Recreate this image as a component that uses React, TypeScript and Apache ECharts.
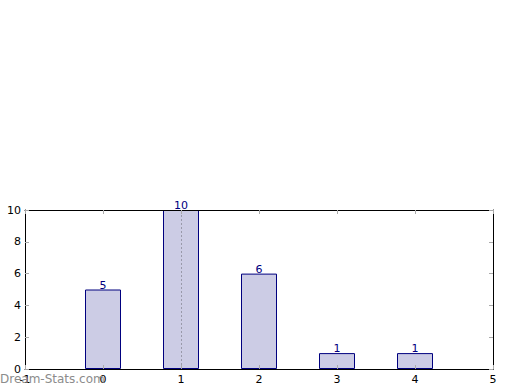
import React, { useEffect, useRef } from "react";
import * as echarts from "echarts";

const categories = [0, 1, 2, 3, 4];
const values = [5, 10, 6, 1, 1];
const xTicks = [-1, 0, 1, 2, 3, 4, 5];
const yTicks = [0, 2, 4, 6, 8, 10];
const markX = 1;

export default function App() {
  const ref = useRef<HTMLDivElement>(null);
  useEffect(() => {
    const chart = echarts.init(ref.current!, null, { renderer: "svg" });
    const font = "DejaVu Sans";
    const tickStyle = { show: true, inside: true, length: 4, lineStyle: { color: "#aaaaaa", width: 1 } };
    const line = { show: true, onZero: false, lineStyle: { color: "#000", width: 1 } };
    chart.setOption({
      animation: false,
      textStyle: { fontFamily: font },
      grid: { left: 25, right: 27, top: 210, bottom: 21, containLabel: false },
      xAxis: [
        {
          type: "value",
          min: xTicks[0],
          max: xTicks[xTicks.length - 1],
          interval: 1,
          position: "bottom",
          z: 10,
          axisLine: line,
          axisTick: tickStyle,
          axisLabel: { color: "#000", fontSize: 11, fontFamily: font, margin: 5 },
          splitLine: { show: false },
        },
        {
          type: "value",
          min: xTicks[0],
          max: xTicks[xTicks.length - 1],
          interval: 1,
          position: "top",
          z: 10,
          axisLine: line,
          axisTick: tickStyle,
          axisLabel: { show: false },
          splitLine: { show: false },
        },
      ],
      yAxis: [
        {
          type: "value",
          min: yTicks[0],
          max: yTicks[yTicks.length - 1],
          interval: 2,
          position: "left",
          z: 10,
          axisLine: line,
          axisTick: tickStyle,
          axisLabel: { color: "#000", fontSize: 11, fontFamily: font, margin: 4 },
          splitLine: { show: false },
        },
        {
          type: "value",
          min: yTicks[0],
          max: yTicks[yTicks.length - 1],
          interval: 2,
          position: "right",
          z: 10,
          axisLine: line,
          axisTick: tickStyle,
          axisLabel: { show: false },
          splitLine: { show: false },
        },
      ],
      series: [
        {
          type: "bar",
          data: categories.map((c, i) => [c, values[i]]),
          barWidth: 36,
          itemStyle: { color: "#ccccE5", borderColor: "#00007f", borderWidth: 1 },
          label: { show: true, position: "top", distance: 0, offset: [0, 1], color: "#00007f", fontSize: 11, fontFamily: font },
          markLine: {
            silent: true,
            symbol: "none",
            label: { show: false },
            lineStyle: { color: "#9999aa", type: [2, 2], width: 1 },
            data: [{ xAxis: markX }],
            z: 5,
          },
        },
      ],
      graphic: [
        {
          type: "text",
          left: 0,
          top: 373,
          z: 100,
          style: { text: "Dream-Stats.com", fill: "#8c8c8c", font: "12px DejaVu Sans" },
        },
      ],
    });
    return () => chart.dispose();
  }, []);
  return <div ref={ref} style={{ width: 520, height: 390, position: "absolute", left: 0, top: 0 }} />;
}
